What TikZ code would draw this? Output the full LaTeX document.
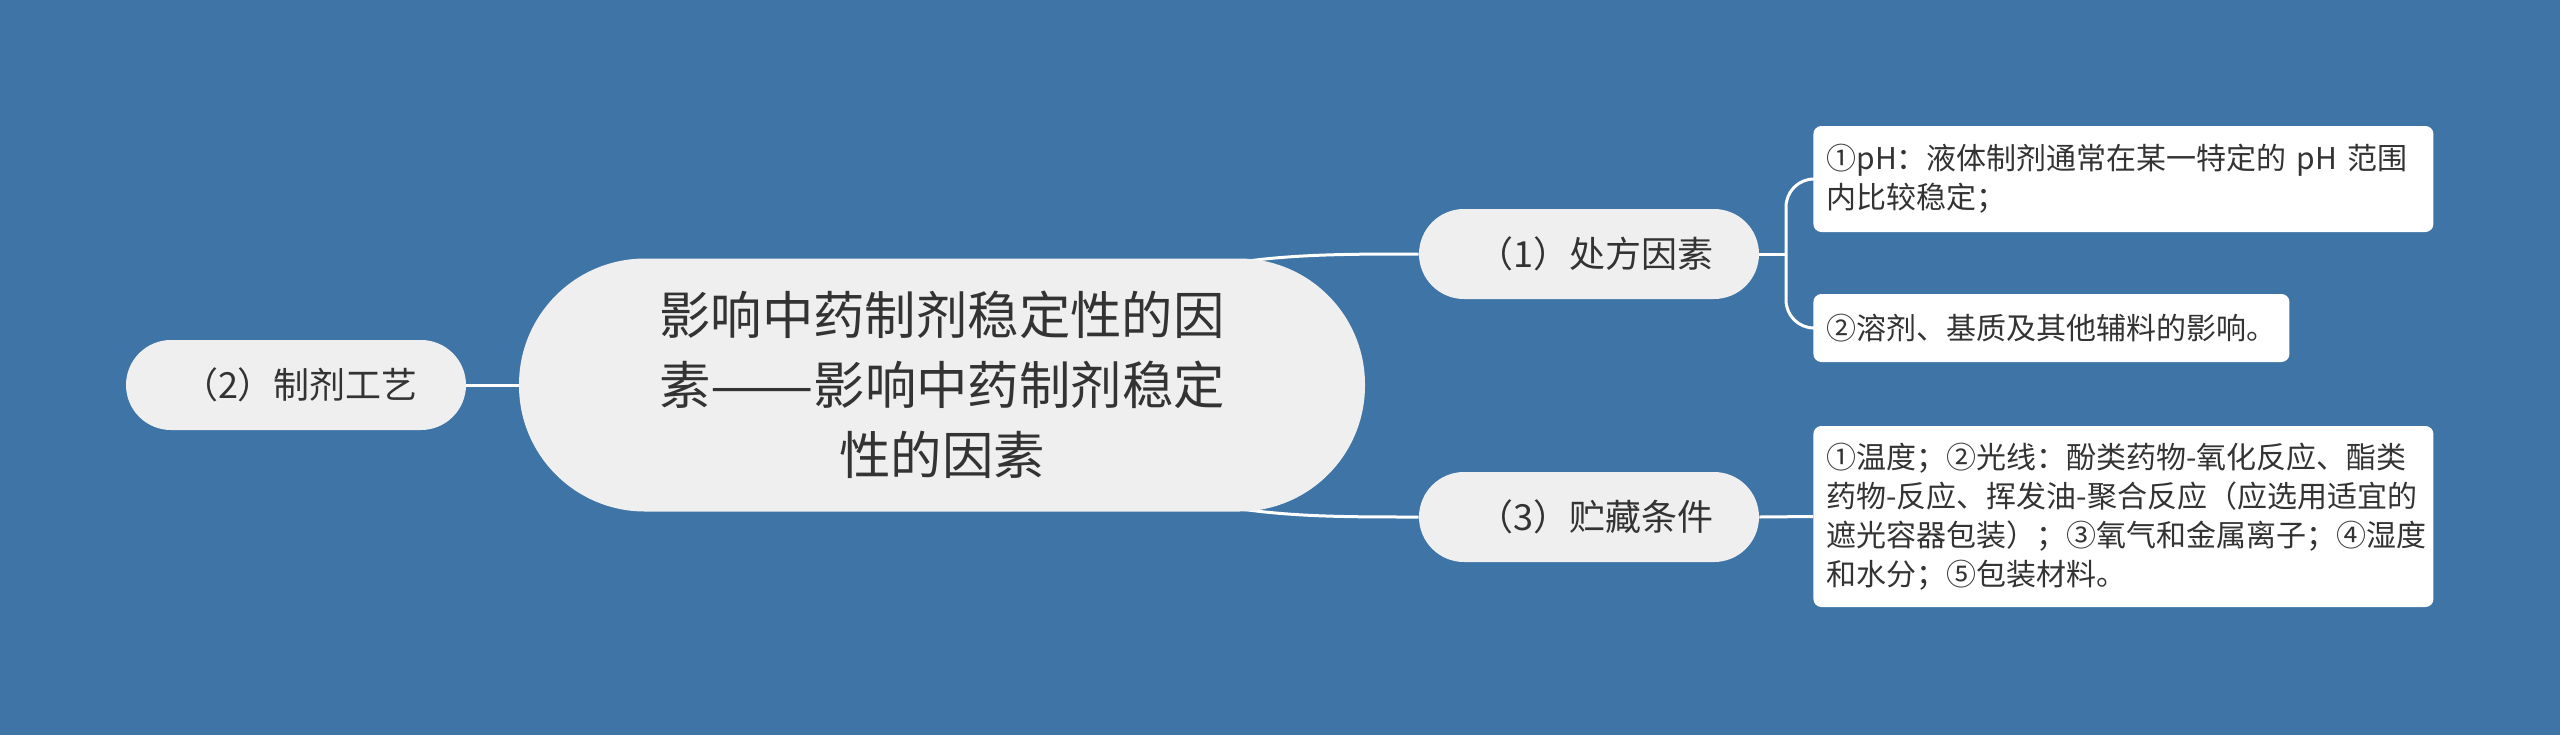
\documentclass[tikz,border=0pt]{standalone}
\usepackage{fontspec}
\setmainfont{Noto Sans CJK SC}
\definecolor{bgblue}{HTML}{3F74A7}
\definecolor{nodegray}{HTML}{EFEFEF}
\definecolor{txt}{HTML}{333333}
\pgfdeclarelayer{bgfill}
\pgfdeclarelayer{background}
\pgfsetlayers{bgfill,background,main}
\tikzset{
  conn/.style={draw=white, line width=1.5pt},
  centerbox/.style={fill=nodegray, rounded corners=63pt, minimum width=423pt, minimum height=126.5pt,
    align=center, text=txt, font=\fontsize{25.7pt}{35pt}\selectfont, inner sep=0pt},
  midbox/.style={fill=nodegray, rounded corners=22.5pt, minimum width=170pt, minimum height=45pt,
    text=txt, font=\fontsize{18pt}{22pt}\selectfont, inner sep=0pt},
  leafbox/.style={fill=white, rounded corners=4pt, align=left, text=txt,
    font=\fontsize{15pt}{19.5pt}\selectfont, inner xsep=6.5pt, inner ysep=0pt, anchor=west}
}
\begin{document}
\begin{tikzpicture}[x=0.5pt,y=-0.5pt]
\useasboundingbox (0,0) rectangle (2560,735);
\begin{pgfonlayer}{bgfill}
\fill[bgblue] (0,0) rectangle (2560,735);
\end{pgfonlayer}

\node[centerbox] (c) at (942,385) {影响中药制剂稳定性的因\\素\scalebox{1.2}[1]{——}影响中药制剂稳定\\性的因素};
\node[midbox] (n2) at (296,385) {\hspace*{4pt}（2）制剂工艺};
\node[midbox] (n1) at (1589,254) {\hspace*{6pt}（1）处方因素};
\node[midbox] (n3) at (1589,517) {\hspace*{6pt}（3）贮藏条件};

\node[leafbox, minimum width=310pt, minimum height=53pt, text width=297pt] (l1) at (1813,179)
  {①pH：液体制剂通常在某一特定的 pH 范围\\内比较稳定；};
\node[leafbox, minimum height=34pt] (l2) at (1813,328) {②溶剂、基质及其他辅料的影响。};
\node[leafbox, minimum width=310pt, minimum height=90.5pt, text width=297pt] (l3) at (1813,516.5)
  {①温度；②光线：酚类药物-氧化反应、酯类\\药物-反应、挥发油-聚合反应（应选用适宜的\\遮光容器包装）；③氧气和金属离子；④湿度\\和水分；⑤包装材料。};

\coordinate (b1) at (1786,254);

\begin{pgfonlayer}{background}
\draw[conn] (c.center) .. controls (1150,254) and (1250,254) .. (n1.west);
\draw[conn] (c.center) .. controls (1150,517) and (1250,517) .. (n3.west);
\draw[conn] (n2.east) -- (c.west);
\draw[conn] (n1.east) -- (b1);
\draw[conn, rounded corners=14pt] (b1) |- (l1.west);
\draw[conn, rounded corners=14pt] (b1) |- (l2.west);
\draw[conn] (n3.east) -- (l3.west);
\end{pgfonlayer}
\end{tikzpicture}
\end{document}
